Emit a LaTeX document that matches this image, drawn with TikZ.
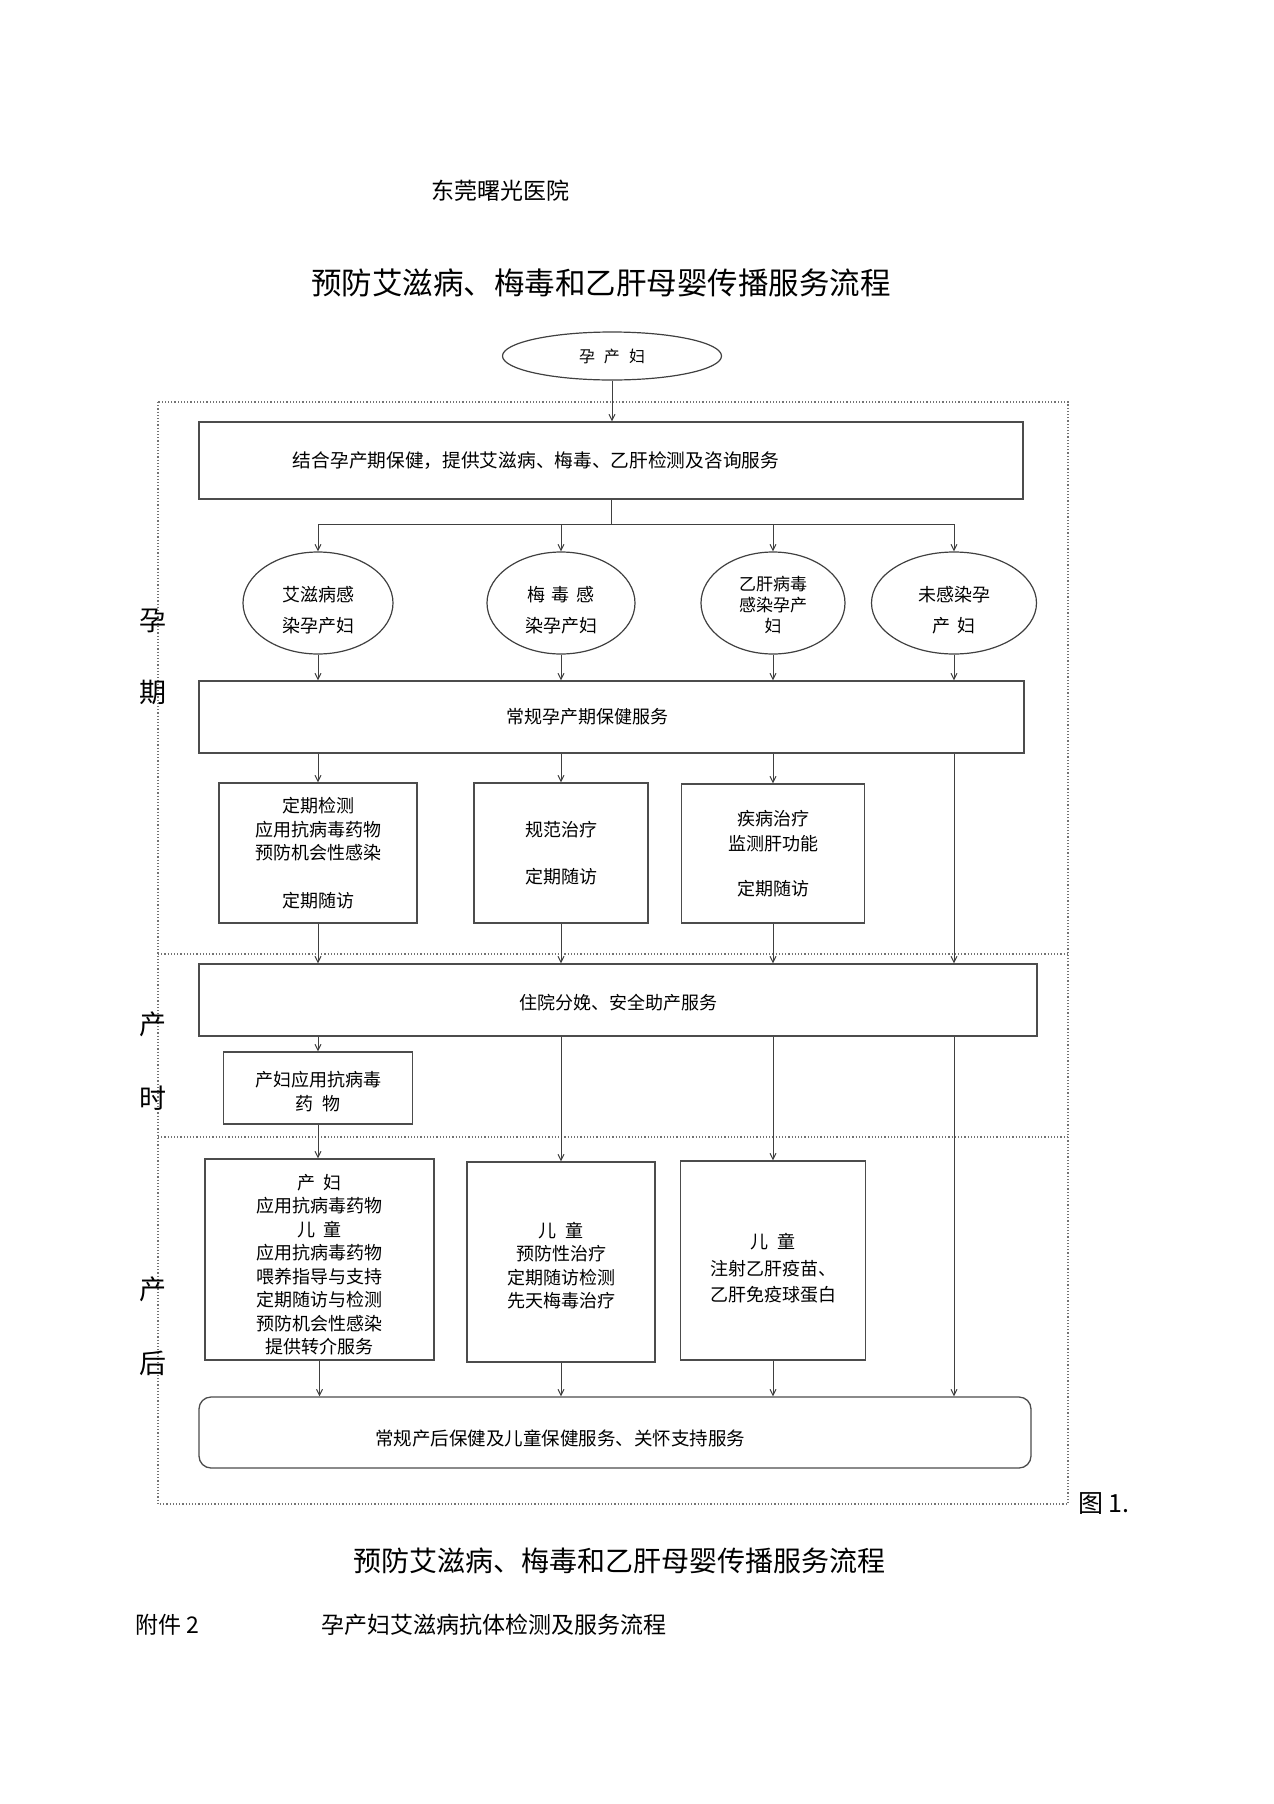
\documentclass[tikz,border=0pt]{standalone}
\usepackage{fontspec}
\setmainfont{Noto Sans CJK SC}
\usetikzlibrary{arrows.meta}
\usetikzlibrary{shapes.geometric}
\newcommand{\xiayi}[1]{\rule{0pt}{#1}}

\begin{document}
\begin{tikzpicture}[x=1pt,y=-1pt,
	box/.style={draw=black!70, line width=1.3pt, rectangle, align=center, inner sep=0pt, font=\fontsize{18}{23.5}\selectfont},
	oval/.style={draw=black!75, line width=1.2pt, ellipse, align=center, inner sep=0pt, font=\fontsize{18}{31}\selectfont},
	arr/.style={-{Straight Barb[length=6pt,width=6pt]}, draw=black!75, line width=1pt},
	side/.style={inner sep=0pt, font=\fontsize{27}{27}\selectfont},
	frame/.style={dotted, draw=black!55, line width=1.2pt}]
		\useasboundingbox (0,0) rectangle (1274,1804);
		
		\node[font=\fontsize{23}{23}\selectfont] (yiyuan) at (500,191) {东莞曙光医院};
		\node[font=\fontsize{30.5}{30.5}\selectfont] (biaoti) at (601,283) {预防艾滋病、梅毒和乙肝母婴传播服务流程};
		
		\draw[frame] (158,402) rectangle (1068,1504);
		\draw[frame] (158,954) -- (1068,954);
		\draw[frame] (158,1137) -- (1068,1137);
		
		\node[side] (yun) at (153,621) {孕};
		\node[side] (qi) at (153,692) {期};
		\node[side] (chan1) at (153,1024) {产};
		\node[side] (shi) at (153,1098) {时};
		\node[side] (chan2) at (153,1289) {产};
		\node[side] (hou) at (153,1363) {后};
		
		\node[oval, minimum width=219pt, minimum height=48pt, font=\fontsize{16}{16}\selectfont] (yunchanfu) at (612,356) {孕\hspace{9pt}产\hspace{9pt}妇};
		\node[box, minimum width=824pt, minimum height=77pt, font=\fontsize{18.7}{18.7}\selectfont] (jiance) at (611,460.5) {\hspace*{-150pt}结合孕产期保健，提供艾滋病、梅毒、乙肝检测及咨询服务};
		
		\node[oval, minimum width=150pt, minimum height=102pt] (aizi) at (318,603) {\xiayi{29pt}艾滋病感\\染孕产妇};
		\node[oval, minimum width=148pt, minimum height=102pt] (meidu) at (561,603) {\xiayi{29pt}梅\hspace{7pt}毒\hspace{7pt}感\\染孕产妇};
		\node[oval, minimum width=144pt, minimum height=102pt, font=\fontsize{17}{21}\selectfont] (yigan) at (773,603) {\xiayi{19pt}乙肝病毒\\感染孕产\\妇};
		\node[oval, minimum width=165pt, minimum height=102pt] (weiganran) at (954,603) {\xiayi{29pt}未感染孕\\产\hspace{7pt}妇};
		
		\node[box, minimum width=825pt, minimum height=72pt] (changgui) at (611.5,717) {\hspace*{-48pt}常规孕产期保健服务};
		
		\node[box, minimum width=198pt, minimum height=140pt] (dingqi) at (318,853) {定期检测\\应用抗病毒药物\\预防机会性感染\\[24pt]定期随访};
		\node[box, minimum width=174pt, minimum height=140pt] (guifan) at (561,853) {规范治疗\\[23.5pt]定期随访};
		\node[box, minimum width=183pt, minimum height=139pt, font=\fontsize{18}{25}\selectfont] (jibing) at (773,853.5) {疾病治疗\\监测肝功能\\[20pt]定期随访};
		
		\node[box, minimum width=838pt, minimum height=72pt] (zhuyuan) at (618,1000) {\xiayi{20pt}住院分娩、安全助产服务};
		\node[box, minimum width=189pt, minimum height=72pt] (chanfu) at (318,1088) {\xiayi{22pt}产妇应用抗病毒\\药\hspace{9pt}物};
		
		\node[box, minimum width=229pt, minimum height=201pt] (chanhou) at (319.5,1259.5) {\xiayi{25pt}产\hspace{9pt}妇\\应用抗病毒药物\\儿\hspace{9pt}童\\应用抗病毒药物\\喂养指导与支持\\定期随访与检测\\预防机会性感染\\提供转介服务};
		\node[box, minimum width=188pt, minimum height=200pt] (yufang) at (561,1262) {\xiayi{22pt}儿\hspace{9pt}童\\预防性治疗\\定期随访检测\\先天梅毒治疗};
		\node[box, minimum width=185pt, minimum height=199pt, font=\fontsize{18}{26.5}\selectfont] (yimiao) at (773,1260.5) {\xiayi{31pt}儿\hspace{9pt}童\\注射乙肝疫苗、\\乙肝免疫球蛋白};
		
		\node[box, rounded corners=12pt, minimum width=832pt, minimum height=71pt, font=\fontsize{18.5}{18.5}\selectfont] (guanhuai) at (615,1432.5) {\xiayi{28pt}\hspace*{-110pt}常规产后保健及儿童保健服务、关怀支持服务};
		
		\coordinate (fen) at (611,524);
		\draw[arr] (yunchanfu.south) -- (yunchanfu.south |- jiance.north);
		\draw[arr, -] (jiance.south) -- (fen);
		\draw[arr, -] (fen -| aizi) -- (fen -| weiganran);
		\foreach \c in {aizi,meidu,yigan,weiganran}
			\draw[arr] (fen -| \c) -- (\c.north);
		\foreach \c in {aizi,meidu,yigan,weiganran}
			\draw[arr] (\c.south) -- (\c.south |- changgui.north);
		\foreach \c in {dingqi,guifan,jibing}{
			\draw[arr] (changgui.south -| \c) -- (\c.north);
			\draw[arr] (\c.south) -- (\c.south |- zhuyuan.north);
		}
		\draw[arr] (changgui.south -| weiganran) -- (zhuyuan.north -| weiganran);
		\draw[arr] (zhuyuan.south -| chanfu) -- (chanfu.north);
		\draw[arr] (chanfu.south) -- (chanfu.south |- chanhou.north);
		\draw[arr] (zhuyuan.south -| yufang) -- (yufang.north);
		\draw[arr] (zhuyuan.south -| yimiao) -- (yimiao.north);
		\draw[arr] (zhuyuan.south -| weiganran) -- (guanhuai.north -| weiganran);
		\foreach \c in {chanhou,yufang,yimiao}
			\draw[arr] (\c.south) -- (\c.south |- guanhuai.north);
		
		\node[anchor=west, inner sep=0pt, font=\fontsize{25}{25}\selectfont] (tu) at (1078,1504) {图 1.};
		\node[font=\fontsize{28}{28}\selectfont] (tuming) at (619,1561) {预防艾滋病、梅毒和乙肝母婴传播服务流程};
		\node[anchor=west, inner sep=0pt, font=\fontsize{23}{23}\selectfont] (fujian) at (135,1625) {附件 2};
		\node[anchor=west, inner sep=0pt, font=\fontsize{23}{23}\selectfont] (liucheng) at (321,1625) {孕产妇艾滋病抗体检测及服务流程};
	\end{tikzpicture}
\end{document}
